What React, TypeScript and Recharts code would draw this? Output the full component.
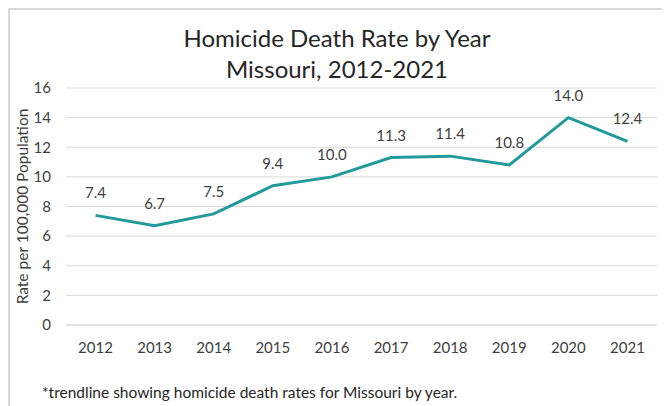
import React from 'react';
import { LineChart, Line, XAxis, YAxis, CartesianGrid, LabelList, Label } from 'recharts';

// Missouri homicide death rate per 100,000 population
const years = ['2012', '2013', '2014', '2015', '2016', '2017', '2018', '2019', '2020', '2021'];
const rates = [7.4, 6.7, 7.5, 9.4, 10.0, 11.3, 11.4, 10.8, 14.0, 12.4];
const yTicks = [0, 2, 4, 6, 8, 10, 12, 14, 16];

const data = years.map((year, i) => ({ year, rate: rates[i] }));

const font = 'Lato, "Open Sans", sans-serif';
const textColor = '#404040';

export default function App() {
  return (
    <div
      style={{
        position: 'relative',
        width: 662,
        height: 398,
        borderLeft: '2px solid #d9d9d9',
        borderTop: '2px solid #d9d9d9',
        fontFamily: font,
        overflow: 'hidden',
      }}
    >
      <div
        style={{
          position: 'absolute',
          left: 0,
          width: 654,
          top: 12,
          textAlign: 'center',
          fontSize: 24,
          lineHeight: '31px',
          color: '#262626',
        }}
      >
        Homicide Death Rate by Year
        <br />
        Missouri, 2012-2021
      </div>

      <LineChart
        width={660}
        height={396}
        data={data}
        margin={{ top: 78, right: 13, bottom: 51, left: 0 }}
        style={{ position: 'absolute', left: 0, top: 0 }}
      >
        <CartesianGrid vertical={false} stroke="#d9d9d9" strokeWidth={1} />
        <XAxis
          dataKey="year"
          height={30}
          padding={{ left: 29.5, right: 29.5 }}
          axisLine={{ stroke: '#d9d9d9' }}
          tickLine={false}
          tickSize={0}
          tickMargin={17}
          tick={{ fill: textColor, fontSize: 15, fontFamily: font }}
        />
        <YAxis
          width={56}
          domain={[0, 16]}
          ticks={yTicks}
          axisLine={false}
          tickLine={false}
          tickSize={0}
          tickMargin={15}
          tick={{ fill: textColor, fontSize: 15, fontFamily: font }}
        >
          <Label
            value="Rate per 100,000 Population"
            angle={-90}
            position="center"
            dx={-16}
            style={{ fill: textColor, fontSize: 15.5, fontFamily: font }}
          />
        </YAxis>
        <Line
          type="linear"
          dataKey="rate"
          stroke="#22999b"
          strokeWidth={3}
          dot={false}
          isAnimationActive={false}
        >
          <LabelList
            dataKey="rate"
            position="top"
            offset={17}
            formatter={(v: number) => v.toFixed(1)}
            style={{ fill: textColor, fontSize: 15, fontFamily: font }}
          />
        </Line>
      </LineChart>

      <div
        style={{
          position: 'absolute',
          left: 32,
          top: 373,
          fontSize: 15.5,
          color: '#262626',
          whiteSpace: 'nowrap',
        }}
      >
        *trendline showing homicide death rates for Missouri by year.
      </div>
    </div>
  );
}
